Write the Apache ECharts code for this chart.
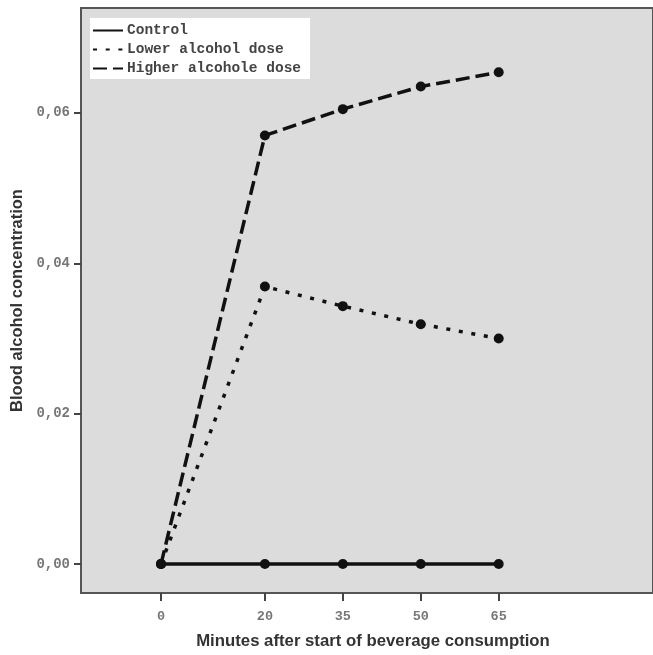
<!DOCTYPE html>
<html>
<head>
<meta charset="utf-8">
<script src="https://cdn.jsdelivr.net/npm/echarts@6/dist/echarts.min.js"></script>
<style>
  html, body { margin: 0; padding: 0; background: #fff; }
  #chart { width: 653px; height: 655px; }
</style>
</head>
<body>
<div id="chart"></div>
<script>
// Minutes after the start of drinking at which blood alcohol was measured
const minutes = [0, 20, 35, 50, 65];
const controlBAC = [0, 0, 0, 0, 0];
const lowerDoseBAC = [0, 0.0369, 0.0343, 0.0319, 0.0300];
const higherDoseBAC = [0, 0.0570, 0.0605, 0.0635, 0.0654];
const yTickValues = [0, 0.02, 0.04, 0.06];

const seriesNames = ['Control', 'Lower alcohol dose', 'Higher alcohole dose'];

const monoFont = '"Liberation Mono", "DejaVu Sans Mono", monospace';
const sansFont = '"Liberation Sans", Arial, sans-serif';
const ink = '#111';

function pairs(values) {
  return minutes.map((m, i) => [m, values[i]]);
}

function lineSeries(name, values, lineType) {
  return {
    name: name,
    type: 'line',
    data: pairs(values),
    symbol: 'circle',
    symbolSize: 10,
    itemStyle: { color: ink },
    lineStyle: { color: ink, width: 3.5, type: lineType, cap: 'butt' },
    emphasis: { disabled: true },
    animation: false
  };
}

const chart = echarts.init(document.getElementById('chart'), null, { renderer: 'canvas' });

chart.setOption({
  backgroundColor: '#fff',
  animation: false,
  grid: {
    left: 81,
    top: 8,
    width: 579,
    height: 585,
    show: true,
    backgroundColor: '#dcdcdc',
    borderColor: '#555',
    borderWidth: 2
  },
  legend: {
    orient: 'vertical',
    left: 90,
    top: 18,
    padding: [5, 9, 3, 2],
    itemGap: 4,
    itemWidth: 30,
    itemHeight: 14,
    backgroundColor: '#fff',
    data: seriesNames,
    itemStyle: { opacity: 0 },
    textStyle: { fontFamily: monoFont, fontSize: 14.5, lineHeight: 14, fontWeight: 'bold', color: '#444', padding: [0, 0, 0, -1] }
  },
  xAxis: {
    type: 'value',
    min: -15.4,
    max: 94.7,
    splitLine: { show: false },
    axisLine: { show: false, onZero: false },
    axisTick: {
      show: true,
      customValues: minutes,
      length: 8,
      inside: false,
      lineStyle: { color: '#444', width: 2 }
    },
    axisLabel: {
      customValues: minutes,
      margin: 17,
      fontFamily: monoFont,
      fontSize: 13.5,
      fontWeight: 'bold',
      color: '#777'
    },
    name: 'Minutes after start of beverage consumption',
    nameLocation: 'middle',
    nameGap: 40,
    nameTextStyle: { fontFamily: sansFont, fontWeight: 'bold', fontSize: 16.75, color: '#333', padding: [0, 0, 0, 12] }
  },
  yAxis: {
    type: 'value',
    min: -0.00385,
    max: 0.07395,
    splitLine: { show: false },
    axisLine: { show: false, onZero: false },
    axisTick: {
      show: true,
      customValues: yTickValues,
      length: 7,
      lineStyle: { color: '#444', width: 2 }
    },
    axisLabel: {
      customValues: yTickValues,
      margin: 11,
      fontFamily: monoFont,
      fontSize: 14,
      fontWeight: 'bold',
      color: '#777',
      formatter: v => v.toFixed(2).replace('.', ',')
    },
    name: 'Blood alcohol concentration',
    nameLocation: 'middle',
    nameRotate: 90,
    nameGap: 50,
    nameTextStyle: { fontFamily: sansFont, fontWeight: 'bold', fontSize: 16.5, color: '#333' }
  },
  series: [
    lineSeries(seriesNames[0], controlBAC, 'solid'),
    lineSeries(seriesNames[1], lowerDoseBAC, [4, 8.7]),
    lineSeries(seriesNames[2], higherDoseBAC, [14, 6])
  ]
});
</script>
</body>
</html>
